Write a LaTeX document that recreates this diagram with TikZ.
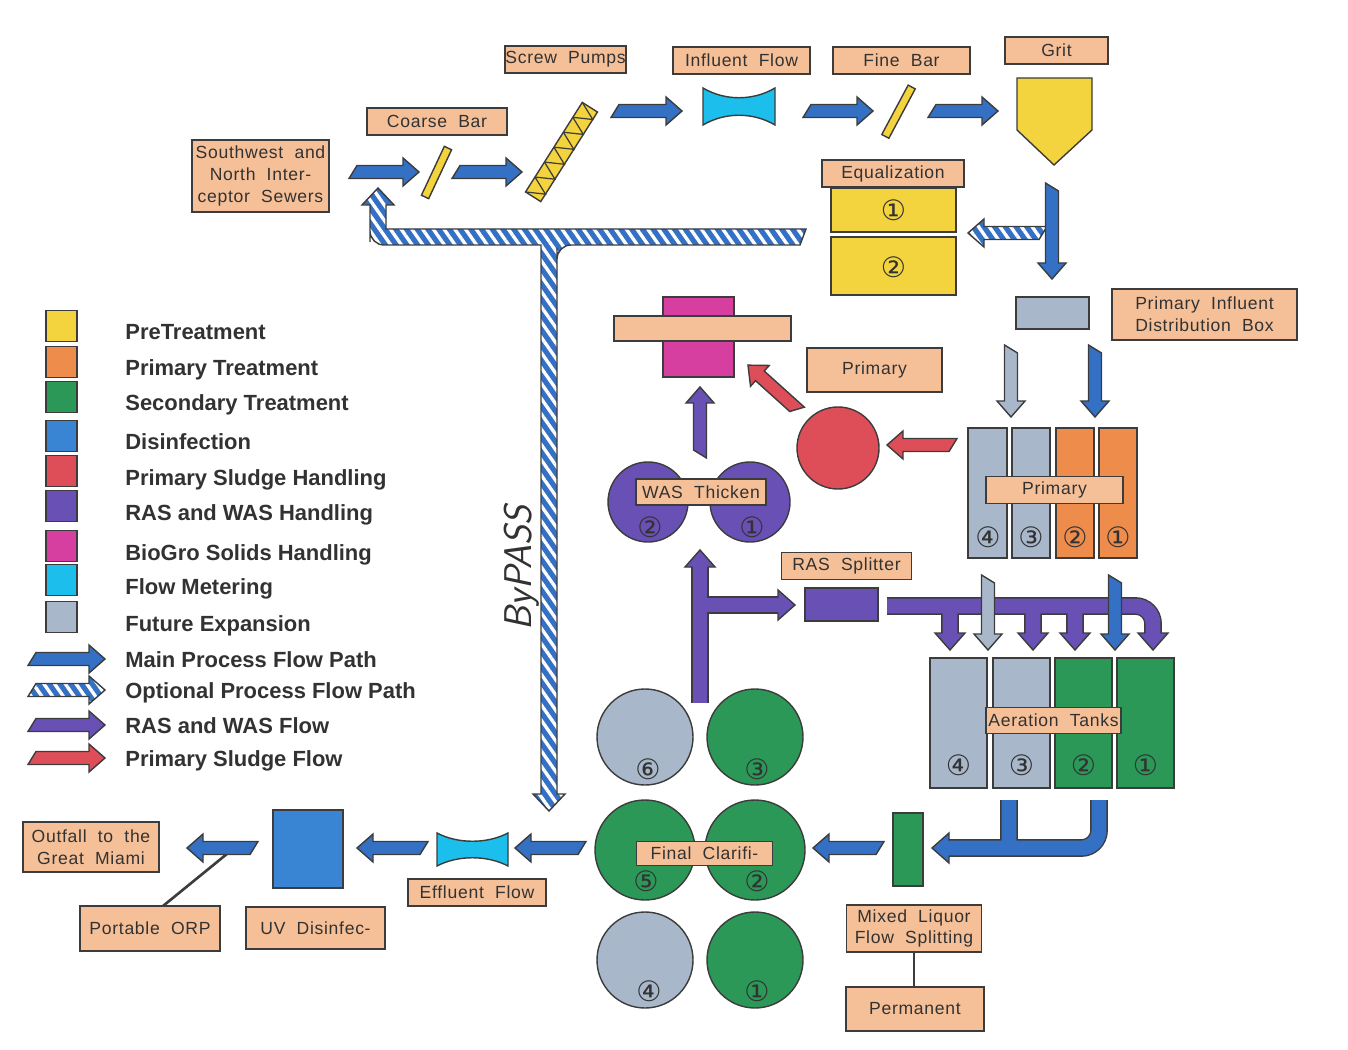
\documentclass[tikz,border=0pt]{standalone}
\usepackage{fontspec}
\setmainfont{Liberation Sans}
\newfontfamily\labelfont[LetterSpace=4,WordSpace=2]{Liberation Sans}
\newfontfamily\numfont{DejaVu Sans}
\usetikzlibrary{patterns.meta}
\definecolor{peach}{RGB}{245,192,152}
\definecolor{pretreat}{RGB}{243,212,62}
\definecolor{primtreat}{RGB}{238,140,76}
\definecolor{sectreat}{RGB}{44,152,88}
\definecolor{disinf}{RGB}{58,132,212}
\definecolor{sludgered}{RGB}{222,78,88}
\definecolor{rasviolet}{RGB}{104,80,180}
\definecolor{biogro}{RGB}{214,62,160}
\definecolor{meter}{RGB}{28,190,236}
\definecolor{future}{RGB}{168,184,202}
\definecolor{flowblue}{RGB}{52,112,196}
\definecolor{edge}{RGB}{60,60,60}
\definecolor{inkgray}{RGB}{50,50,50}

\tikzset{
  tag/.style={draw=edge, fill=peach, line width=0.9pt, align=center, inner sep=0pt,
    text=inkgray, font=\labelfont\fontsize{10}{12.3}\selectfont},
  sz/.style 2 args={minimum width=#1*0.02cm, minimum height=#2*0.02cm},
  unit/.style={draw=edge, line width=0.8pt},
  circ/.style={circle, draw=edge, line width=0.8pt, inner sep=0pt, minimum size=#1*0.02cm},
  num/.style={font=\numfont\fontsize{16}{16}\selectfont, text=inkgray, inner sep=0pt},
  legtxt/.style={anchor=base west, inner sep=0pt, text=inkgray,
    font=\bfseries\fontsize{12.5}{14}\selectfont},
  mainflow/.style={fill=flowblue, draw=edge, line width=0.8pt},
  futflow/.style={fill=future, draw=edge, line width=0.8pt},
  rasflow/.style={fill=rasviolet, draw=edge, line width=0.8pt},
  sludgeflow/.style={fill=sludgered, draw=edge, line width=0.8pt},
  optflow/.style={draw=edge, line width=0.8pt, preaction={fill=flowblue},
    pattern={Lines[angle=-55,distance=5pt,line width=1.9pt]}, pattern color=white},
  raspipe/.style={draw=rasviolet, line width=8.5pt, preaction={draw=edge, line width=10.1pt}},
  mainpipe/.style={draw=flowblue, line width=8.5pt, preaction={draw=edge, line width=10.1pt}},
  pics/flowarr/.style 2 args={code={
    \path[#2] (8,-6.5) -- (#1-16,-6.5) -- (#1-16,-14) -- (#1,0) -- (#1-16,14)
      -- (#1-16,6.5) -- (0,6.5) -- cycle;}},
  pics/pipehead/.style={code={
    \path[#1] (-17,-7.5) -- (-17,-15) -- (0,0) -- (-17,15) -- (-17,7.5);}},
}

\begin{document}
\begin{tikzpicture}[x=0.02cm, y=-0.02cm]
\useasboundingbox (0,0) rectangle (1348,1050);

% bypass line
\path[optflow] (370,205) -- (362,205) -- (378,188) -- (394,205) -- (386,205) -- (386,229)
  -- (806,229) -- (800,245) [rounded corners=8] -- (557,245) -- (557,262) [sharp corners]
  -- (557,794) -- (565,794) -- (549,811) -- (533,794) -- (541,794) -- (541,245)
  [rounded corners=8] -- (370,245) -- (370,228) [sharp corners] -- cycle;
\node[rotate=90, text=inkgray, font=\sffamily\itshape\fontsize{22}{22}\selectfont] (bypasstext) at (522,568) {ByPASS};

% pretreatment
\begin{scope}[shift={(436.5,172.5)}, rotate=64.9]
  \filldraw[unit, fill=pretreat] (-27,-4) rectangle (27,4);
\end{scope}
\begin{scope}[shift={(561.5,152)}, rotate=57.65]
  \filldraw[unit, fill=pretreat] (-53,-9) rectangle (53,9);
  \foreach \k in {0,...,5}
    \draw[edge, line width=0.7pt] (-53+\k*17.67,-9) -- (-53+\k*17.67+8.83,9) -- (-53+\k*17.67+17.67,-9);
\end{scope}
\filldraw[unit, fill=meter] (703,88) -- (703,125) .. controls (725,112) and (753,112) .. (775,125)
  -- (775,88) .. controls (753,101) and (725,101) .. (703,88) -- cycle;
\begin{scope}[shift={(898.5,111.7)}, rotate=61.9]
  \filldraw[unit, fill=pretreat] (-28,-4) rectangle (28,4);
\end{scope}
\filldraw[unit, fill=pretreat] (1017,78) -- (1092,78) -- (1092,130) -- (1054,165) -- (1017,130) -- cycle;
\node[unit, fill=pretreat, sz={125}{44}] (eq1) at (893.5,210) {};
\node[unit, fill=pretreat, sz={125}{58}] (eq2) at (893.5,266) {};
\node[num] (eqn1) at (893.5,210) {①};
\node[num] (eqn2) at (893.5,267) {②};

% primary
\node[unit, fill=future, sz={73}{32}] (distbox) at (1052.5,313) {};
\node[unit, fill=future, sz={39}{130}] (prim4) at (987.5,493) {};
\node[unit, fill=future, sz={38}{130}] (prim3) at (1031,493) {};
\node[unit, fill=primtreat, sz={38}{130}] (prim2) at (1075,493) {};
\node[unit, fill=primtreat, sz={38}{130}] (prim1) at (1118,493) {};
\node[num] (pn4) at (988,537) {④};
\node[num] (pn3) at (1031,537) {③};
\node[num] (pn2) at (1075,537) {②};
\node[num] (pn1) at (1118,537) {①};

% sludge and solids
\node[circ=82, fill=sludgered] (sludgepump) at (838,448) {};
\node[unit, fill=biogro, sz={71}{80}] (biotank) at (698.5,337) {};
\node[circ=80, fill=rasviolet] (was2) at (648,502) {};
\node[circ=80, fill=rasviolet] (was1) at (750,502) {};
\node[num] (wn2) at (650,527) {②};
\node[num] (wn1) at (752,527) {①};

% secondary
\node[unit, fill=rasviolet, sz={73}{33}] (rassplit) at (841.5,604.5) {};
\node[unit, fill=future, sz={57}{130}] (aer4) at (958.5,723) {};
\node[unit, fill=future, sz={57}{130}] (aer3) at (1021.5,723) {};
\node[unit, fill=sectreat, sz={57}{130}] (aer2) at (1083.5,723) {};
\node[unit, fill=sectreat, sz={57}{130}] (aer1) at (1145.5,723) {};
\node[num] (an4) at (958.5,765) {④};
\node[num] (an3) at (1021.5,765) {③};
\node[num] (an2) at (1083.5,765) {②};
\node[num] (an1) at (1145.5,765) {①};
\node[unit, fill=sectreat, sz={30}{73}] (mlsplit) at (908,849.5) {};
\node[circ=96, fill=future] (fc6) at (645,737) {};
\node[circ=96, fill=sectreat] (fc3) at (755,737) {};
\node[circ=100, fill=sectreat] (fc5) at (645,850) {};
\node[circ=100, fill=sectreat] (fc2) at (755,850) {};
\node[circ=96, fill=future] (fc4) at (645,960) {};
\node[circ=96, fill=sectreat] (fc1) at (755,960) {};
\node[num] (cn6) at (648,769) {⑥};
\node[num] (cn3) at (757,769) {③};
\node[num] (cn5) at (646,881) {⑤};
\node[num] (cn2) at (757,881) {②};
\node[num] (cn4) at (649,991) {④};
\node[num] (cn1) at (757,991) {①};

% disinfection
\filldraw[unit, fill=meter] (437,833) -- (437,866) .. controls (458,855) and (487,855) .. (508,866)
  -- (508,833) .. controls (487,844) and (458,844) .. (437,833) -- cycle;
\node[unit, fill=disinf, sz={70}{78}] (uvtank) at (308,849) {};

% flow pipes
\draw[raspipe] (700,703) -- (700,567) (700,605) -- (778,605);
\pic[rotate=90] at (700,550) {pipehead=rasflow};
\pic at (795,605) {pipehead=rasflow};
\draw[raspipe, rounded corners=10] (887,606) -- (1153,606) -- (1153,633)
  (950,606) -- (950,633) (1033,606) -- (1033,633) (1075,606) -- (1075,633);
\foreach \x in {950,1033,1075,1153}
  \pic[rotate=-90] at (\x,650) {pipehead=rasflow};
\draw[mainpipe, rounded corners=10] (1099,800) -- (1099,848) -- (949,848) (1009,800) -- (1009,848);
\pic[rotate=180] at (932,848) {pipehead=mainflow};

% flow arrows
\pic at (349,172) {flowarr={70}{mainflow}};
\pic at (452,172) {flowarr={70}{mainflow}};
\pic at (611,111) {flowarr={71}{mainflow}};
\pic at (803,111) {flowarr={70}{mainflow}};
\pic at (928,111) {flowarr={70}{mainflow}};
\pic[rotate=180] at (1047,233) {flowarr={79}{optflow}};
\pic[rotate=-90] at (1052,183) {flowarr={96}{mainflow}};
\pic[rotate=-90] at (1011,345) {flowarr={72}{futflow}};
\pic[rotate=-90] at (1095,345) {flowarr={72}{mainflow}};
\pic[rotate=180] at (957,445) {flowarr={70}{sludgeflow}};
\pic[rotate=138] at (800,412) {flowarr={70}{sludgeflow}};
\pic[rotate=90] at (700,458) {flowarr={71}{rasflow}};
\pic[rotate=-90] at (988,575) {flowarr={75}{futflow}};
\pic[rotate=-90] at (1115,575) {flowarr={75}{mainflow}};
\pic[rotate=180] at (884,848) {flowarr={71}{mainflow}};
\pic[rotate=180] at (586,848) {flowarr={71}{mainflow}};
\pic[rotate=180] at (428,848) {flowarr={71}{mainflow}};
\coordinate (orptap) at (233,849);
\draw[edge, line width=1.5pt] (163,906) -- (orptap);
\pic[rotate=180] at (258,848) {flowarr={71}{mainflow}};

% labels
\node[tag, sz={137}{72}] (sewers) at (260.5,176) {Southwest and\\North Inter-\\ceptor Sewers};
\node[tag, sz={140}{27}] (coarse) at (437,121.5) {Coarse Bar};
\node[tag, sz={121}{27}] (screw) at (565.5,59.5) {Screw Pumps};
\node[tag, sz={137}{27}] (influent) at (741.5,60.5) {Influent Flow};
\node[tag, sz={137}{27}] (fine) at (901.5,60.5) {Fine Bar};
\node[tag, sz={103}{27}] (grit) at (1056.5,50.5) {Grit};
\node[tag, sz={142}{27}] (equal) at (893,173.5) {Equalization};
\node[tag, sz={185}{51}] (distlabel) at (1204.5,314.5) {Primary Influent\\Distribution Box};
\node[tag, sz={135}{44}] (sludgelabel) at (874.5,370) {Primary};
\node[tag, sz={177}{25}] (biogro) at (702.5,328.5) {};
\node[tag, sz={130}{26}] (was) at (701,492) {WAS Thicken};
\node[tag, sz={137}{27}] (primlabel) at (1054.5,490) {Primary};
\node[tag, sz={130}{27}] (raslabel) at (846.5,566) {RAS Splitter};
\node[tag, sz={135}{26}] (aeration) at (1053.5,720.5) {Aeration Tanks};
\node[tag, sz={136}{24}] (final) at (704.5,853.5) {Final Clarifi-};
\node[tag, sz={135}{47}] (mixed) at (914,928.5) {Mixed Liquor\\Flow Splitting};
\node[tag, sz={138}{44}] (permanent) at (915,1009) {Permanent};
\draw[edge, line width=1pt] (mixed.south) -- (mixed.south |- permanent.north);
\node[tag, sz={138}{27}] (effluent) at (477,892.5) {Effluent Flow};
\node[tag, sz={139}{42}] (uv) at (315.5,928) {UV Disinfec-};
\node[tag, sz={140}{45}] (orp) at (150,928.5) {Portable ORP};
\node[tag, sz={136}{50}] (outfall) at (91,847) {Outfall to the\\Great Miami};

% legend
\foreach \c/\t/\y [count=\i] in {pretreat/PreTreatment/332, primtreat/Primary Treatment/368,
    sectreat/Secondary Treatment/403, disinf/Disinfection/442, sludgered/Primary Sludge Handling/477,
    rasviolet/RAS and WAS Handling/512, biogro/BioGro Solids Handling/552,
    meter/Flow Metering/586, future/Future Expansion/623} {
  \node[unit, fill=\c, sz={31}{31}] (key\i) at (61.5,\y-6) {};
  \node[legtxt] (keytext\i) at (125,\y+8) {\t};
}
\pic at (28,659) {flowarr={77}{mainflow}};
\pic at (28,690) {flowarr={77}{optflow}};
\pic at (28,725) {flowarr={77}{rasflow}};
\pic at (28,758) {flowarr={77}{sludgeflow}};
\node[legtxt] (flowtext1) at (125,667) {Main Process Flow Path};
\node[legtxt] (flowtext2) at (125,698) {Optional Process Flow Path};
\node[legtxt] (flowtext3) at (125,733) {RAS and WAS Flow};
\node[legtxt] (flowtext4) at (125,766) {Primary Sludge Flow};
\end{tikzpicture}
\end{document}
